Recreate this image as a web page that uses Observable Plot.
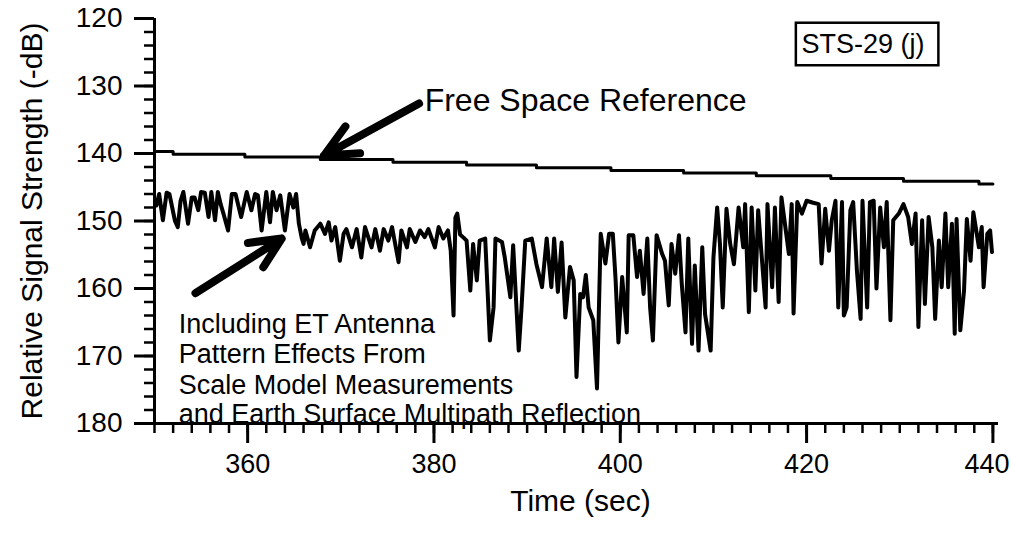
<!DOCTYPE html>
<html><head><meta charset="utf-8">
<script src="https://cdn.jsdelivr.net/npm/d3@7"></script>
<script src="https://cdn.jsdelivr.net/npm/@observablehq/plot@0.6"></script>
<style>body{margin:0;background:#fff}</style>
</head><body><div id="chart"></div>
<script>
// Measured signal (including ET antenna pattern + multipath), time in sec, level in -dB
const timeSec = [
350.2,350.5,350.9,351.3,351.6,352.2,352.5,352.8,353.1,353.6,354.0,354.3,354.7,355.0,355.4,355.8,356.1,356.5,356.8,357.1,
357.4,357.9,358.3,358.7,359.3,359.9,360.4,360.8,361.1,361.5,362.0,362.4,362.7,363.1,363.5,364.0,364.5,364.9,365.2,365.5,
365.8,366.0,366.2,366.7,367.2,367.8,368.3,368.7,369.0,369.4,369.9,370.3,370.6,371.2,371.7,372.2,372.6,373.3,373.7,374.2,
374.6,375.1,375.5,376.2,376.5,377.1,377.4,378.0,378.5,379.0,379.4,380.1,380.5,381.0,381.5,381.8,382.1,382.3,382.5,382.8,
383.2,383.5,383.9,384.2,384.6,384.9,385.5,386.0,386.4,386.6,387.3,387.6,388.2,388.5,389.1,389.4,389.8,390.5,391.0,391.6,
392.1,392.6,392.9,393.3,393.7,394.1,394.6,395.0,395.3,395.7,396.0,396.3,396.6,397.1,397.5,397.9,398.4,398.8,399.2,399.5,
399.8,400.2,400.7,400.9,401.4,401.8,402.1,402.5,402.9,403.2,403.5,403.9,404.5,404.8,405.2,405.5,405.9,406.3,406.6,407.0,
407.3,407.7,408.0,408.4,408.8,409.1,409.7,410.0,410.4,410.7,411.0,411.4,411.8,412.2,412.7,413.2,413.4,413.8,414.1,414.5,
414.8,415.6,415.8,416.3,416.6,417.0,417.3,418.1,418.4,418.6,419.0,419.5,420.0,420.7,421.3,421.6,422.0,422.4,422.7,423.1,
423.4,423.8,424.0,424.3,424.7,425.0,425.4,425.8,426.0,426.5,426.8,427.2,427.5,427.9,428.3,428.6,429.0,429.3,429.9,430.4,
430.9,431.3,431.7,432.0,432.4,432.7,433.1,433.5,433.8,434.2,434.5,434.9,435.2,435.6,435.9,436.1,436.5,436.9,437.2,437.6,
437.9,438.5,438.8,439.0,439.4,439.7,439.9
];
const signalDb = [
147.7,146.0,149.9,145.8,146.0,150.0,150.9,147.0,145.7,150.4,146.5,146.5,148.4,145.7,145.8,149.4,145.7,149.9,145.7,147.5,
148.9,151.4,146.0,146.0,149.4,145.7,148.4,146.0,146.2,151.4,145.7,150.2,145.7,148.4,146.2,151.4,146.0,148.0,146.0,150.4,
152.5,153.4,151.4,153.9,151.4,150.4,151.9,150.2,152.9,150.9,155.9,151.9,151.2,153.9,151.2,155.4,150.9,153.9,151.2,154.4,
151.2,152.9,150.9,156.1,151.4,153.9,151.2,153.1,151.4,152.4,151.2,153.9,150.9,152.6,151.4,154.4,164.0,149.5,148.9,152.0,
152.5,152.9,160.3,153.4,158.8,152.9,152.6,167.7,162.8,152.6,153.1,155.4,161.3,153.6,169.2,162.8,152.9,152.6,156.4,159.8,
152.6,159.8,152.6,160.5,153.2,164.3,156.8,158.8,173.1,160.8,161.3,158.0,162.8,164.7,174.8,151.9,156.3,151.9,151.9,158.8,
168.0,158.3,166.5,152.1,152.1,158.3,154.4,160.8,152.6,162.8,167.7,152.1,154.9,155.9,162.5,153.4,157.8,152.1,159.3,166.5,
152.6,168.2,156.6,169.2,153.9,163.8,169.2,155.4,148.0,153.4,162.8,148.2,153.4,156.4,148.0,153.9,147.5,163.5,148.0,160.3,
148.4,162.8,147.5,159.8,148.0,162.0,146.5,154.9,147.5,163.7,147.2,148.9,147.0,147.3,147.5,156.3,148.2,154.4,149.9,147.0,
162.8,147.2,164.0,162.8,148.4,147.2,157.3,164.5,147.0,162.8,147.2,147.0,160.0,148.0,153.9,147.2,164.7,149.9,148.9,147.5,
149.4,153.4,148.9,165.7,149.9,162.3,149.4,153.9,164.5,152.9,159.8,148.9,159.8,150.4,166.7,149.7,166.2,160.3,149.7,155.9,
148.7,153.9,150.9,159.8,151.9,151.4,154.6
];
// Free space reference (stepped)
const refTime = [350, 352, 359.7, 367.8, 375.6, 383.5, 391, 399, 406.8, 414.6, 422.6, 430.4, 438.5, 440];
const refDb   = [139.7, 140.1, 140.5, 140.9, 141.3, 141.7, 142.1, 142.5, 142.9, 143.3, 143.7, 144.1, 144.5, 144.5];

const xMajorTicks = [360, 380, 400, 420, 440];
const xMinorTicks = d3.range(350, 441, 2);
const yMajorTicks = [120, 130, 140, 150, 160, 170, 180];
const yMinorTicks = d3.range(120, 181, 2);
const xLastTick = xMajorTicks[xMajorTicks.length - 1];

const xTitle = "Time (sec)";
const yTitle = "Relative Signal Strength (-dB)";
const boxLabel = "STS-29 (j)";
const freeSpaceLabel = "Free Space Reference";
const effectsLines = ["Including ET Antenna", "Pattern Effects From", "Scale Model Measurements", "and Earth Surface Multipath Reflection"];

const signal = timeSec.map((t, i) => ({t, v: signalDb[i]}));
const reference = refTime.map((t, i) => ({t, v: refDb[i]}));
const effectsRows = effectsLines.map((s, i) => ({s, v: [165.3, 169.8, 174.3, 178.6][i]}));

const chart = Plot.plot({
  width: 1013,
  height: 537,
  marginTop: 18,
  marginBottom: 114,
  marginLeft: 154,
  marginRight: 15,
  style: {fontFamily: "'Liberation Sans', Arial, Helvetica, sans-serif", fontSize: "28px", background: "white", color: "black"},
  x: {domain: [350, 440.6]},
  y: {domain: [120, 180], reverse: true},
  marks: [
    Plot.axisY({ticks: yMinorTicks, tickSize: 10, strokeWidth: 2.5, tickFormat: () => "", label: null}),
    Plot.axisY({ticks: yMajorTicks, tickSize: 20, tickPadding: 12, strokeWidth: 3, fontSize: 28, label: null}),
    Plot.axisX({ticks: xMinorTicks, tickSize: 10, strokeWidth: 2.5, tickFormat: () => "", label: null}),
    Plot.axisX({ticks: xMajorTicks, tickSize: 20, tickPadding: 10, strokeWidth: 3, fontSize: 27, label: null,
      tickFormat: (d) => d === xLastTick ? "" : String(d)}),
    Plot.axisX({ticks: [xLastTick], tickSize: 0, tickPadding: 30, dx: -6, fontSize: 27, label: null}),
    Plot.ruleX([350], {strokeWidth: 3}),
    Plot.ruleY([180], {strokeWidth: 3}),
    Plot.line(reference, {x: "t", y: "v", curve: "step-after", stroke: "black", strokeWidth: 3}),
    Plot.line(signal, {x: "t", y: "v", stroke: "black", strokeWidth: 4, strokeLinejoin: "round"}),
    Plot.text([yTitle], {frameAnchor: "left", textAnchor: "middle", lineAnchor: "middle", dx: -122, rotate: -90, fontSize: 30}),
    Plot.text([xTitle], {frameAnchor: "bottom", textAnchor: "middle", lineAnchor: "middle", dx: 4, dy: 78, fontSize: 30}),
    Plot.rect([boxLabel], {x1: 418.9, x2: 434.2, y1: 120.7, y2: 127.0, fill: "none", stroke: "black", strokeWidth: 2.5}),
    Plot.text([boxLabel], {x: 426.05, y: 123.9, fontSize: 27}),
    Plot.text([freeSpaceLabel], {x: 379.0, y: 132.15, textAnchor: "start", fontSize: 32}),
    Plot.arrow([freeSpaceLabel], {x1: 378.4, y1: 132.6, x2: 368.2, y2: 140.3, strokeWidth: 8, headLength: 7, headAngle: 50, stroke: "black"}),
    Plot.arrow([effectsLines[0]], {x1: 354.4, y1: 160.7, x2: 363.65, y2: 152.6, strokeWidth: 8, headLength: 7, headAngle: 50, stroke: "black"}),
    Plot.text(effectsRows, {x: 352.6, y: "v", text: "s", textAnchor: "start", fontSize: 27})
  ]
});
document.getElementById("chart").append(chart);
</script>
</body></html>
